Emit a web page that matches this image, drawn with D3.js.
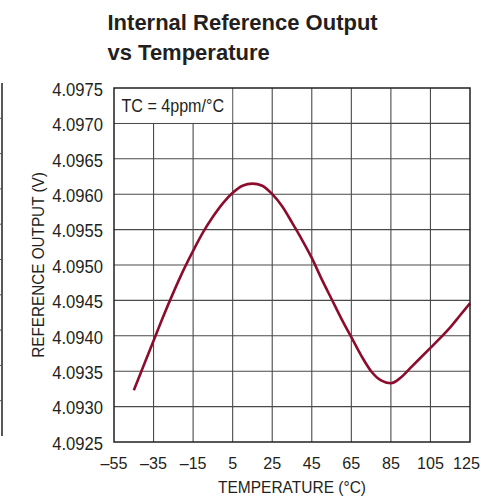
<!DOCTYPE html>
<html>
<head>
<meta charset="utf-8">
<script src="https://cdn.jsdelivr.net/npm/d3@7"></script>
<style>
  body { margin: 0; background: #fff; }
  svg { display: block; }
  text { font-family: "Liberation Sans", Arial, sans-serif; fill: #231f20; }
</style>
</head>
<body>
<svg class="chart" width="481" height="498"></svg>
<script>
const temps = [-45, -40, -35, -30, -25, -20, -15, -10, -5, 0, 5, 10, 15, 20, 25, 30, 35, 40, 45, 50,
  55, 60, 65, 70, 75, 80, 85, 90, 95, 100, 105, 110, 115, 120, 125];
const vref = [4.09323, 4.09358, 4.09393, 4.09428, 4.09461, 4.09492, 4.09520, 4.09546, 4.09568, 4.09587,
  4.09602, 4.09612, 4.09615, 4.09612, 4.09600, 4.09583, 4.09560, 4.09536, 4.09510, 4.09480,
  4.09452, 4.09424, 4.09398, 4.09372, 4.09350, 4.09337, 4.09333, 4.09341, 4.09355, 4.09369,
  4.09383, 4.09397, 4.09412, 4.09429, 4.09446];
const xTicks = [-55, -35, -15, 5, 25, 45, 65, 85, 105, 125];
const yTicks = [4.0925, 4.0930, 4.0935, 4.0940, 4.0945, 4.0950, 4.0955, 4.0960, 4.0965, 4.0970, 4.0975];

const svg = d3.select(".chart");
const pLeft = 114, pRight = 470, pTop = 88, pBottom = 442;

const x = d3.scaleLinear().domain([-55, 125]).range([pLeft, pRight]);
const y = d3.scaleLinear().domain([4.0925, 4.0975]).range([pBottom, pTop]);

// condensed look: squeeze text horizontally
const squeeze = (sel, tx, ty, sx) => sel.attr("transform", `translate(${tx},${ty}) scale(${sx},1)`);

// leftover edge of the neighbouring chart
const stub = svg.append("g");
stub.append("line").attr("x1", 2).attr("x2", 2).attr("y1", 83).attr("y2", 436)
  .attr("stroke", "#231f20").attr("stroke-width", 1.5);
for (let i = 1; i < 10; i++) {
  stub.append("line").attr("x1", 0).attr("x2", 2).attr("y1", 83 + i * 35.3).attr("y2", 83 + i * 35.3)
    .attr("stroke", "#555").attr("stroke-width", 1);
}

// grid
const grid = svg.append("g");
grid.selectAll(".gx").data(xTicks.slice(1, -1)).join("line")
  .attr("x1", d => x(d)).attr("x2", d => x(d)).attr("y1", pTop).attr("y2", pBottom)
  .attr("stroke", "#4a4a4a").attr("stroke-width", 1.1);
grid.selectAll(".gy").data(yTicks.slice(1, -1)).join("line")
  .attr("x1", pLeft).attr("x2", pRight).attr("y1", d => y(d)).attr("y2", d => y(d))
  .attr("stroke", "#4a4a4a").attr("stroke-width", 1.1);

// label box covers the top-left cells
svg.append("rect")
  .attr("x", pLeft).attr("y", pTop)
  .attr("width", x(5) - pLeft - 0.5).attr("height", y(4.0970) - pTop - 0.5)
  .attr("fill", "#fff");
svg.append("text").attr("font-size", 18.3).text("TC = 4ppm/°C")
  .call(squeeze, pLeft + 7.5, pTop + 23.5, 0.88);

// curve
const line = d3.line().x((d, i) => x(temps[i])).y(d => y(d)).curve(d3.curveMonotoneX);
svg.append("path").datum(vref)
  .attr("d", line)
  .attr("fill", "none").attr("stroke", "#8c0c2e").attr("stroke-width", 2.6);

// frame
svg.append("rect").attr("x", pLeft).attr("y", pTop)
  .attr("width", pRight - pLeft).attr("height", pBottom - pTop)
  .attr("fill", "none").attr("stroke", "#231f20").attr("stroke-width", 1.5);

// tick labels
svg.selectAll(".yl").data(yTicks).join("text")
  .attr("text-anchor", "end").attr("font-size", 17.7)
  .text(d => d.toFixed(4))
  .each(function (d) { squeeze(d3.select(this), pLeft - 11, y(d) + 7.7, 0.94); });
svg.selectAll(".xl").data(xTicks).join("text")
  .attr("text-anchor", "middle").attr("font-size", 16.8)
  .text(d => d < 0 ? "\u2013" + Math.abs(d) : String(d))
  .each(function (d) {
    const w = this.getComputedTextLength() * 0.96;
    const cx = Math.min(x(d), 480 - w / 2);
    squeeze(d3.select(this), cx, pBottom + 27, 0.96);
  });

// axis titles
svg.append("text").attr("text-anchor", "middle").attr("font-size", 16)
  .text("TEMPERATURE (°C)")
  .call(squeeze, (pLeft + pRight) / 2, 493, 0.97);
svg.append("text")
  .attr("transform", `translate(44, ${(pTop + pBottom) / 2}) rotate(-90) scale(0.98,1)`)
  .attr("text-anchor", "middle").attr("font-size", 15.6).text("REFERENCE OUTPUT (V)");

// title
const title = svg.append("text").attr("font-size", 22).attr("font-weight", "bold");
title.append("tspan").attr("x", 107.5).attr("y", 30).text("Internal Reference Output");
title.append("tspan").attr("x", 107.5).attr("y", 59.5).text("vs Temperature");
</script>
</body>
</html>
